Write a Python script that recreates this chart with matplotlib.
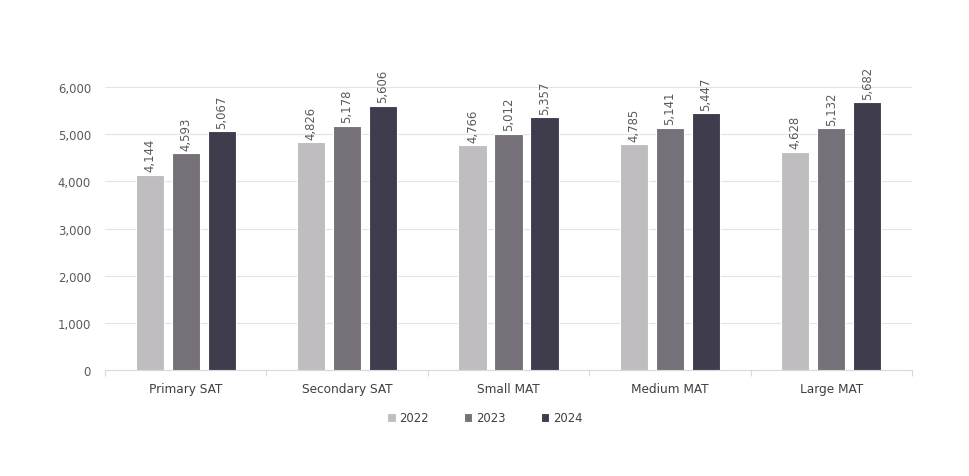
import numpy as np
import matplotlib
matplotlib.use("Agg")
import matplotlib.pyplot as plt

plt.rcParams['font.family'] = ['DejaVu Sans']

categories = ["Primary SAT", "Secondary SAT", "Small MAT", "Medium MAT", "Large MAT"]
years = ["2022", "2023", "2024"]
vals_2022 = [4144, 4826, 4766, 4785, 4628]
vals_2023 = [4593, 5178, 5012, 5141, 5132]
vals_2024 = [5067, 5606, 5357, 5447, 5682]
colors = ["#bfbdbf", "#767079", "#3f3c4d"]

series = [vals_2022, vals_2023, vals_2024]

fig = plt.figure(figsize=(9.7, 4.77), dpi=100)
ax = fig.add_axes([105/970, 1 - 371/477, (912-105)/970, (371-88)/477])

x = np.arange(len(categories))
width = 0.175
step = 0.223
for i, (vals, yr, c) in enumerate(zip(series, years, colors)):
    pos = x + (i - 1) * step
    bars = ax.bar(pos, vals, width, color=c, edgecolor="white", linewidth=0.8,
                  label=yr, zorder=3)
    for b, v in zip(bars, vals):
        ax.text(b.get_x() + b.get_width()/2, v + 70, f"{v:,}", rotation=90,
                ha="center", va="bottom", fontsize=8.4, color="#595959")

ax.set_xlim(-0.5, len(categories) - 0.5)
ax.set_ylim(0, 6000)
ax.set_yticks(np.arange(0, 6001, 1000))
ax.set_yticklabels([f"{v:,}" for v in range(0, 6001, 1000)])
ax.yaxis.grid(True, color="#e4e4e4", linewidth=0.8, zorder=0)
ax.set_axisbelow(True)

ax.set_xticks(x)
ax.set_xticklabels(categories)
ax.set_xticks(np.arange(-0.5, len(categories), 1), minor=True)
ax.tick_params(axis="x", which="major", length=0, pad=9, labelsize=8.7, labelcolor="#404040")
ax.tick_params(axis="x", which="minor", length=4, color="#d9d9d9", width=0.8)
ax.tick_params(axis="y", length=0, pad=10, labelsize=8.4, labelcolor="#595959")

for s in ["top", "right", "left"]:
    ax.spines[s].set_visible(False)
ax.spines["bottom"].set_color("#d9d9d9")
ax.spines["bottom"].set_linewidth(0.8)

fig.legend(loc="center", bbox_to_anchor=(0.5, 1 - 419/477), ncol=3, frameon=False,
           fontsize=8.4, handlelength=0.7, handleheight=0.7, handletextpad=0.35,
           columnspacing=3.0, labelcolor="#404040")

fig.savefig("out.png", dpi=100, facecolor="white")
